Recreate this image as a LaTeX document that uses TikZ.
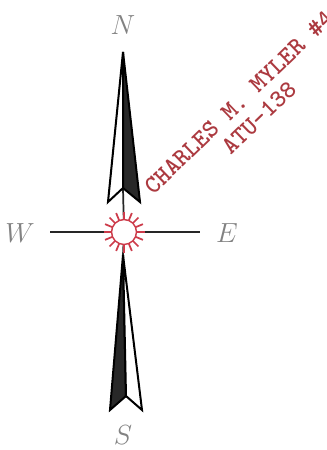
\documentclass[tikz,border=0pt]{standalone}
\usepackage{fontspec}
\usetikzlibrary{calc}
\definecolor{stampred}{RGB}{172,58,64}
\definecolor{sunred}{RGB}{205,60,75}
\definecolor{labgray}{RGB}{130,130,130}
\definecolor{darkfill}{RGB}{40,40,40}
\begin{document}
\begin{tikzpicture}[x=0.75pt,y=-0.75pt,
  dirlabel/.style={text=labgray,font=\fontsize{20}{24}\selectfont\itshape, inner sep=0pt},
  stamp/.style={text=stampred,font=\ttfamily\bfseries\addfontfeatures{FakeBold=1.2}\fontsize{19}{21}\selectfont, inner sep=0pt, rotate=44},
  halfwhite/.style={draw=black,fill=white,line width=1.5pt,line join=miter},
  halfdark/.style={draw=black,fill=darkfill,line width=1.5pt,line join=miter},
  axis/.style={draw=black!85,line width=1.3pt}]
\useasboundingbox (0,0) rectangle (326,450);
\fill[white] (0,0) rectangle (326,450);
% labels
\node[dirlabel] (N) at (123,25) {$N$};
\node[dirlabel] (S) at (123,435) {$S$};
\node[dirlabel] (W) at (20,233) {$W$};
\node[dirlabel] (E) at (227,233) {$E$};
% key points
\coordinate (C) at (124,232);
\coordinate (wend) at (50,232);
\coordinate (eend) at (200,232);
\coordinate (ntip) at (123,52);
\coordinate (nl) at (108,202);
\coordinate (nn) at (123,188);
\coordinate (nr) at (140,202);
\coordinate (stip) at (123,255);
\coordinate (sl) at (110,410);
\coordinate (sn) at (126,396);
\coordinate (sr) at (142,410);
% axes
\draw[axis] (wend) -- (eend);
\draw[axis] (nn) -- (C);
\draw[axis] (C) -- (stip);
% north arrow
\draw[halfwhite] (ntip) -- (nl) -- (nn) -- cycle;
\draw[halfdark] (ntip) -- (nn) -- (nr) -- cycle;
% south arrow
\draw[halfdark] (stip) -- (sl) -- (sn) -- cycle;
\draw[halfwhite] (stip) -- (sn) -- (sr) -- cycle;
% sun
\foreach \a in {0,22.5,...,359}
  \draw[sunred,line width=1.3pt] ($(C)+(\a:13)$) -- ($(C)+(\a:20.5)$);
\node[circle,draw=sunred,fill=white,line width=1.1pt,minimum size=25*0.75pt,inner sep=0pt] (sun) at (C) {};
% stamp
\node[stamp] (st1) at (239,102) {CHARLES M. MYLER \#4};
\node[stamp] (st2) at (259,118) {ATU-138};
\end{tikzpicture}
\end{document}
